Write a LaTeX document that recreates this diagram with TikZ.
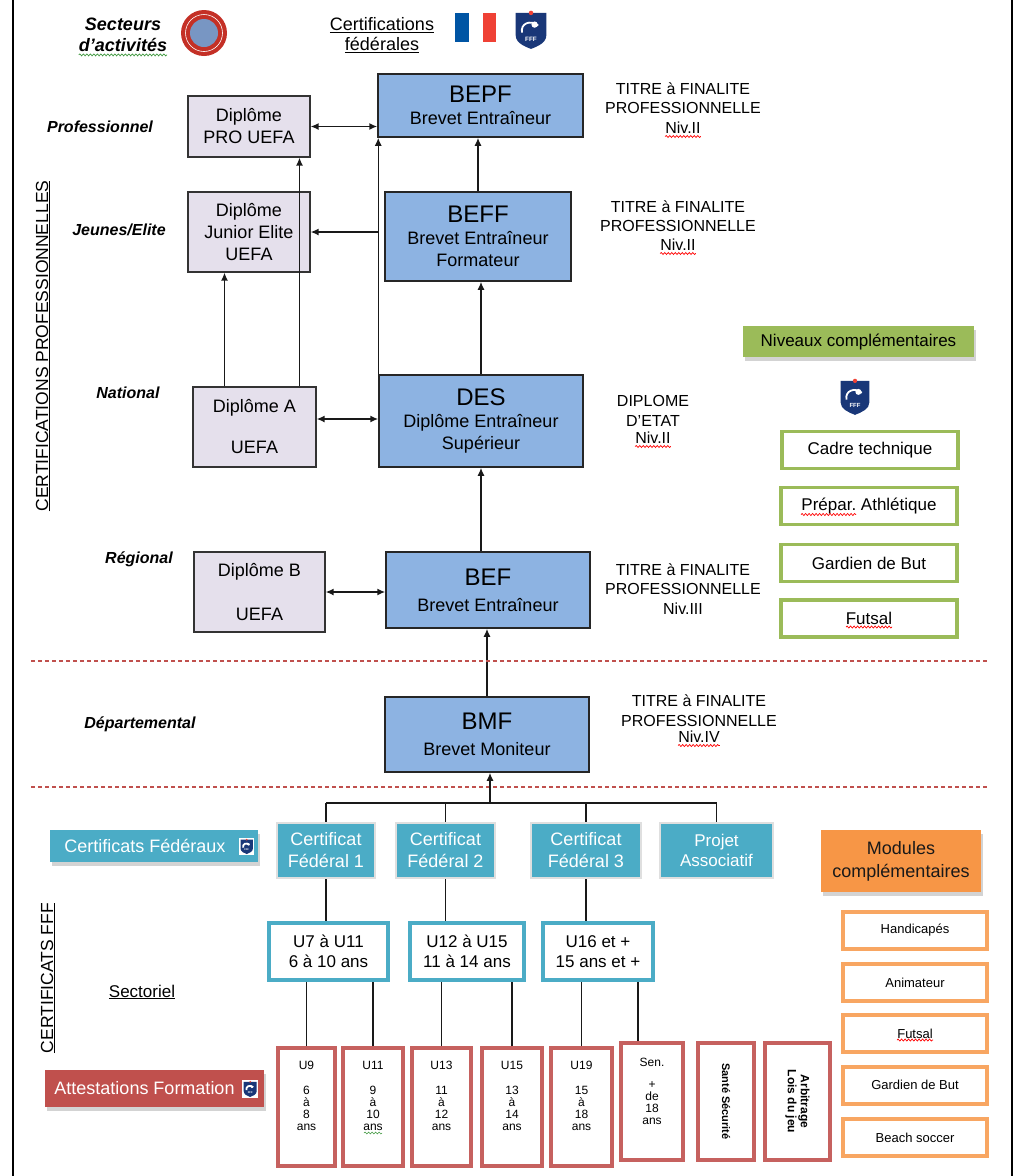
\documentclass[tikz,border=0pt]{standalone}
\usepackage{fontspec}
\setmainfont{Liberation Sans}
\usepackage{tikz}
\usepackage{xcolor}
\usetikzlibrary{arrows.meta,shadows,decorations.pathmorphing}

\definecolor{lavfill}{RGB}{229,224,236}
\definecolor{bluefill}{RGB}{141,179,226}
\definecolor{greenfff}{RGB}{155,187,89}
\definecolor{tealfff}{RGB}{75,172,198}
\definecolor{orangefff}{RGB}{247,150,70}
\definecolor{redfff}{RGB}{192,80,77}
\definecolor{navyfff}{RGB}{25,55,120}
\definecolor{uefared}{RGB}{196,48,38}
\definecolor{uefablue}{RGB}{120,150,195}
\definecolor{flagblue}{RGB}{0,85,164}
\definecolor{flagred}{RGB}{239,65,53}
\definecolor{spellgreen}{RGB}{60,150,60}

\newcommand\bigtitle[1]{{\fontsize{24}{26}\selectfont #1}}

\tikzset{
  pics/fffshield/.style={code={
    \fill[navyfff] (-17,-19) -- (17,-19) -- (17,6) .. controls (17,14) and (8,18) .. (0,21) .. controls (-8,18) and (-17,14) .. (-17,6) -- cycle;
    \draw[white, line width=1.8pt] (-10,3) .. controls (-12,-7) and (-1,-12) .. (8,-5);
    \fill[white] (4,-6) circle (3.5pt);
    \fill[flagred] (0,-19) circle (2.5pt);
    \node[white, transform shape, font=\bfseries\fontsize{7}{7}\selectfont] (-word) at (0,10) {FFF};
  }}
}

\begin{document}
\begin{tikzpicture}[x=1pt, y=-1pt,
  >={Latex[length=8pt,width=7pt]},
  lavbox/.style={draw=black!80, line width=1.2pt, fill=lavfill, align=center, inner sep=0pt, font=\fontsize{18}{22}\selectfont},
  bluebox/.style={draw=black!85, line width=1.5pt, fill=bluefill, align=center, inner sep=0pt, font=\fontsize{18}{22}\selectfont},
  level/.style={font=\bfseries\itshape\fontsize{16}{19}\selectfont},
  titre/.style={align=center, inner sep=0pt, font=\fontsize{16}{19.5}\selectfont},
  vertical/.style={rotate=90, font=\fontsize{17.5}{20}\selectfont},
  headbox/.style={inner sep=0pt, align=center, drop shadow={opacity=0.35, shadow xshift=2pt, shadow yshift=-4pt}},
  greenbox/.style={draw=greenfff, line width=3.5pt, fill=white, inner sep=0pt, minimum width=176pt, minimum height=37pt, font=\fontsize{17}{20}\selectfont},
  certbox/.style={draw=gray!25, line width=2pt, fill=tealfff, text=white, align=center, inner sep=0pt, minimum height=55pt, font=\fontsize{18}{22}\selectfont},
  agebox/.style={draw=tealfff, line width=4pt, fill=white, align=center, inner sep=0pt, minimum height=57pt, font=\fontsize{17}{20}\selectfont},
  attbox/.style={draw=redfff!90, line width=4pt, fill=white, align=center, inner sep=0pt, font=\fontsize{12}{12}\selectfont},
  modbox/.style={draw=orangefff!85, line width=4pt, fill=white, inner sep=0pt, minimum width=144pt, minimum height=37pt, font=\fontsize{13}{15}\selectfont},
  conn/.style={line width=1.5pt, black!90},
  sepline/.style={redfff, line width=2pt, dash pattern=on 4pt off 3pt},
  spell/.style={decorate, decoration={snake, amplitude=1pt, segment length=3.5pt}, line width=0.7pt}]

  \useasboundingbox (0,0) rectangle (1015,1176);
  \draw[line width=2.5pt] (13,0) -- (13,1176) (1012,0) -- (1012,1176);

  \node[inner sep=0pt, font=\bfseries\itshape\fontsize{18}{20}\selectfont] (secteurs) at (123,24) {Secteurs};
  \node[inner sep=0pt, font=\bfseries\itshape\fontsize{18}{20}\selectfont] (activites) at (123,45) {d'activités};
  \draw[spell, spellgreen] ([yshift=-3pt]activites.south west) -- ([yshift=-3pt]activites.south east);
  \fill[uefared] (204,33) circle (23pt);
  \fill[uefablue] (204,33) circle (14pt);
  \draw[white, line width=0.6pt] (204,33) circle (18.5pt);
  \node[align=center, font=\fontsize{18}{20}\selectfont] (federales) at (382,35) {\underline{Certifications}\\\underline{fédérales}};
  \fill[flagblue] (455,13) rectangle (469,42);
  \fill[white] (469,13) rectangle (483,42);
  \fill[flagred] (483,13) rectangle (496,42);
  \pic[scale=0.9] (toplogo) at (531,30) {fffshield};

  \node[vertical] (cpro) at (43,346) {\underline{CERTIFICATIONS PROFESSIONNELLES}};
  \node[vertical] (cfff) at (48,978) {\underline{CERTIFICATS FFF}};

  \node[level] (lprof) at (100,127) {Professionnel};
  \node[level] (ljeunes) at (119,230) {Jeunes/Elite};
  \node[level] (lnat) at (128,393) {National};
  \node[level] (lreg) at (139,559) {Régional};
  \node[level] (ldep) at (140,724) {Départemental};
  \node[font=\fontsize{17}{20}\selectfont] (sectoriel) at (142,992) {\underline{Sectoriel}};

  \node[lavbox, minimum width=122pt, minimum height=61pt] (pro) at (249,126.5) {Diplôme\\PRO UEFA};
  \node[lavbox, minimum width=122pt, minimum height=80pt] (junior) at (249,232) {Diplôme\\Junior Elite\\UEFA};
  \node[lavbox, minimum width=123pt, minimum height=80pt] (dipa) at (254.5,427) {Diplôme A\\[19pt]UEFA};
  \node[lavbox, minimum width=131pt, minimum height=80pt] (dipb) at (259.5,592) {Diplôme B\\[22pt]UEFA};

  \node[bluebox, minimum width=205pt, minimum height=63pt] (bepf) at (480.5,105.5) {\bigtitle{BEPF}\\Brevet Entraîneur};
  \node[bluebox, minimum width=186pt, minimum height=89pt] (beff) at (478,236.5) {\bigtitle{BEFF}\\Brevet Entraîneur\\Formateur};
  \node[bluebox, minimum width=204pt, minimum height=92pt] (des) at (481,421) {\bigtitle{DES}\\Diplôme Entraîneur\\Supérieur};
  \node[bluebox, minimum width=204pt, minimum height=76pt] (bef) at (488,590) {\bigtitle{BEF}\\[4pt]Brevet Entraîneur};
  \node[bluebox, minimum width=204pt, minimum height=75pt] (bmf) at (487,734.5) {\bigtitle{BMF}\\[4pt]Brevet Moniteur};

  \node[titre] (t1) at (683,98) {TITRE à FINALITE\\PROFESSIONNELLE};
  \node[titre] (n1) at (683,128) {Niv.II};
  \node[titre] (t2) at (678,216) {TITRE à FINALITE\\PROFESSIONNELLE};
  \node[titre] (n2) at (678,245) {Niv.II};
  \node[titre] (t3) at (653,411) {DIPLOME\\D'ETAT};
  \node[titre] (n3) at (653,438) {Niv.II};
  \node[titre] (t4) at (683,589) {TITRE à FINALITE\\PROFESSIONNELLE\\Niv.III};
  \node[titre] (t5) at (699,710.5) {TITRE à FINALITE\\PROFESSIONNELLE};
  \node[titre] (n5) at (699,737) {Niv.IV};
  \foreach \n in {n1,n2,n3,n5}
    \draw[spell, red] ([yshift=-2.5pt]\n.south west) -- ([yshift=-2.5pt]\n.south east);

  \node[headbox, fill=greenfff, minimum width=231pt, minimum height=31pt, font=\fontsize{17}{20}\selectfont] (niveaux) at (858.5,341.5) {Niveaux complémentaires};
  \pic[scale=0.85] (midlogo) at (855,397) {fffshield};
  \node[greenbox] (cadre) at (870,450) {Cadre technique};
  \node[greenbox] (prepar) at (869,506) {Prépar.\ Athlétique};
  \node[greenbox] (gardien) at (869,563) {Gardien de But};
  \node[greenbox] (futsal) at (869,618.5) {Futsal};
  \draw[spell, red] ([xshift=-68pt,yshift=-8.5pt]prepar.center) -- ([xshift=-13pt,yshift=-8.5pt]prepar.center);
  \draw[spell, red] ([xshift=-23pt,yshift=-8.5pt]futsal.center) -- ([xshift=23pt,yshift=-8.5pt]futsal.center);

  \draw[conn, <->] (pro.east) -- (pro.east -| bepf.west);
  \draw[conn, ->] (des.north west) -- (des.north west |- bepf.south);
  \draw[conn, ->] (des.north west |- junior.east) -- (junior.east);
  \draw[conn, ->] (des.north) -- (des.north |- beff.south);
  \draw[conn, ->] (beff.north) -- (beff.north |- bepf.south);
  \draw[conn, ->] ([xshift=-30pt]dipa.north) -- ([xshift=-30pt]dipa.north |- junior.south);
  \draw[conn, ->] ([xshift=45pt]dipa.north) -- ([xshift=45pt]dipa.north |- pro.south);
  \draw[conn, <->] ([yshift=8pt]dipa.east) -- ([yshift=8pt]dipa.east -| des.west);
  \draw[conn, ->] (des.south |- bef.north) -- (des.south);
  \draw[conn, <->] (dipb.east) -- (dipb.east -| bef.west);
  \draw[conn, ->] (bmf.north) -- (bmf.north |- bef.south);

  \draw[sepline] (31,661) -- (987,661);
  \draw[sepline] (31,787) -- (987,787);

  \node[headbox, fill=tealfff, text=white, minimum width=208pt, minimum height=32pt, font=\fontsize{18}{20}\selectfont] (certfed) at (154,846) {Certificats Fédéraux\hspace{18pt}};
  \fill[white] ([xshift=-19pt,yshift=8pt]certfed.east) rectangle ([xshift=-4pt,yshift=-9pt]certfed.east);
  \pic[scale=0.36] (certlogo) at ([xshift=-11.5pt,yshift=-0.5pt]certfed.east) {fffshield};

  \node[certbox, minimum width=98pt] (cf1) at (326,850.5) {Certificat\\Fédéral 1};
  \node[certbox, minimum width=99pt] (cf2) at (445.5,850.5) {Certificat\\Fédéral 2};
  \node[certbox, minimum width=110pt] (cf3) at (586,850.5) {Certificat\\Fédéral 3};
  \node[certbox, minimum width=113pt, font=\fontsize{17}{20}\selectfont] (proj) at (716.5,850.5) {Projet\\Associatif};

  \node[headbox, fill=orangefff, text=black!90, minimum width=160pt, minimum height=62pt, font=\fontsize{18}{23}\selectfont] (modules) at (901,861) {Modules\\complémentaires};

  \coordinate (hub) at (490,803);
  \draw[conn, ->] (hub) -- (hub |- bmf.south);
  \draw[conn] (cf1.north |- hub) -- (proj.north |- hub);
  \foreach \c in {cf1,cf2,cf3,proj}
    \draw[conn] (\c.north |- hub) -- (\c.north);

  \node[agebox, minimum width=119pt] (u7) at (328.5,951.5) {U7 à U11\\6 à 10 ans};
  \node[agebox, minimum width=114pt] (u12) at (467,951.5) {U12 à U15\\11 à 14 ans};
  \node[agebox, minimum width=110pt] (u16) at (598,951.5) {U16 et +\\15 ans et +};

  \draw[conn] (cf1.south) -- (cf1.south |- u7.north);
  \draw[conn] (cf2.south) -- (cf2.south |- u12.north);
  \draw[conn] (cf3.south) -- (cf3.south |- u16.north);

  \node[modbox] (handi) at (915,930.5) {Handicapés};
  \node[modbox] (anim) at (915,982.5) {Animateur};
  \node[modbox] (futsal2) at (915,1033.5) {Futsal};
  \node[modbox] (gard2) at (915,1085) {Gardien de But};
  \node[modbox] (beach) at (915,1137.5) {Beach soccer};
  \draw[spell, red] ([xshift=-18pt,yshift=-6.5pt]futsal2.center) -- ([xshift=18pt,yshift=-6.5pt]futsal2.center);

  \node[headbox, fill=redfff, text=white, minimum width=219pt, minimum height=37pt, font=\fontsize{18}{20}\selectfont] (attest) at (154.5,1088.5) {Attestations Formation\hspace{20pt}};
  \fill[white] ([xshift=-22pt,yshift=9pt]attest.east) rectangle ([xshift=-6pt,yshift=-9pt]attest.east);
  \pic[scale=0.38] (attlogo) at ([xshift=-14pt,yshift=-0.5pt]attest.east) {fffshield};

  \node[attbox, minimum width=57pt, minimum height=118pt] (u9) at (306.5,1107) {U9\\[13pt]6\\à\\8\\ans\\[10pt]\mbox{}};
  \node[attbox, minimum width=60pt, minimum height=118pt] (u11) at (373,1107) {U11\\[13pt]9\\à\\10\\ans\\[10pt]\mbox{}};
  \node[attbox, minimum width=59pt, minimum height=118pt] (u13) at (441.5,1107) {U13\\[13pt]11\\à\\12\\ans\\[10pt]\mbox{}};
  \node[attbox, minimum width=60pt, minimum height=118pt] (u15) at (512,1107) {U15\\[13pt]13\\à\\14\\ans\\[10pt]\mbox{}};
  \node[attbox, minimum width=61pt, minimum height=118pt] (u19) at (581.5,1107) {U19\\[13pt]15\\à\\18\\ans\\[10pt]\mbox{}};
  \node[attbox, minimum width=62pt, minimum height=117pt] (sen) at (652,1101.5) {Sen.\\[10pt]+\\de\\18\\ans\\[8pt]\mbox{}};
  \node[attbox, rotate=-90, minimum width=117pt, minimum height=56pt, font=\bfseries\fontsize{11}{13}\selectfont] (sante) at (726,1101.5) {Santé Sécurité};
  \node[attbox, rotate=-90, minimum width=117pt, minimum height=65pt, font=\bfseries\fontsize{12}{13}\selectfont] (arbit) at (797.5,1101.5) {Arbitrage\\Lois du jeu};
  \draw[spell, spellgreen, line width=0.5pt] ([xshift=-9pt,yshift=-26pt]u11.center) -- ([xshift=9pt,yshift=-26pt]u11.center);

  \draw[conn] (u9.north) -- (u9.north |- u7.south);
  \draw[conn] (u11.north) -- (u11.north |- u7.south);
  \draw[conn] (u13.north) -- (u13.north |- u12.south);
  \draw[conn] (u15.north) -- (u15.north |- u12.south);
  \draw[conn] (u19.north) -- (u19.north |- u16.south);
  \draw[conn] ([xshift=-14pt]sen.north) -- ([xshift=-14pt]sen.north |- u16.south);
\end{tikzpicture}
\end{document}
